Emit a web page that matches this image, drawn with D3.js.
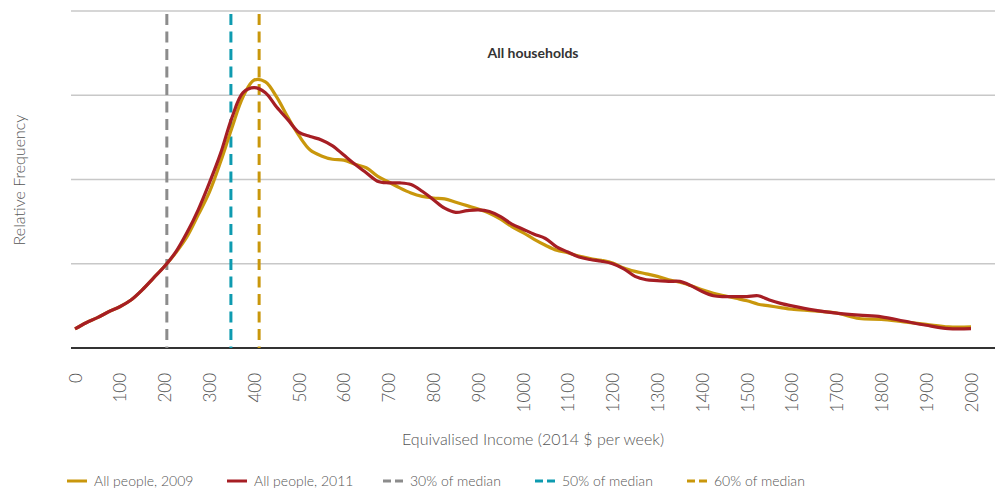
<!DOCTYPE html>
<html>
<head>
<meta charset="utf-8">
<script src="https://cdn.jsdelivr.net/npm/d3@7"></script>
<style>
  body { margin: 0; background: #fff; }
  text { font-family: Lato, "Open Sans", sans-serif; }
</style>
</head>
<body>
<script>
var w = 995,
    h = 490;

var margin = {
    top: 11,
    right: 0,
    bottom: 142,
    left: 71
};

var width = w - margin.left - margin.right,
    height = h - margin.top - margin.bottom;

// income bands ($ per week) and relative frequency (gridline units)
var incomes = [0, 25, 50, 75, 100, 125, 150, 175, 200, 225, 250, 275, 300, 325, 350, 375,
    400, 425, 450, 475, 500, 525, 550, 575, 600, 625, 650, 675, 700, 725, 750, 775,
    800, 825, 850, 875, 900, 925, 950, 975, 1000, 1025, 1050, 1075, 1100, 1125, 1150, 1175,
    1200, 1225, 1250, 1275, 1300, 1325, 1350, 1375, 1400, 1425, 1450, 1475, 1500, 1525, 1550, 1575,
    1600, 1650, 1700, 1750, 1800, 1850, 1900, 1950, 2000];

var freq2009 = [0.226, 0.30, 0.36, 0.43, 0.49, 0.57, 0.69, 0.83, 0.97, 1.13, 1.32, 1.58, 1.85, 2.21, 2.61, 2.98,
    3.18, 3.16, 2.98, 2.74, 2.52, 2.35, 2.28, 2.24, 2.23, 2.18, 2.14, 2.04, 1.97, 1.90, 1.84, 1.80,
    1.78, 1.77, 1.73, 1.69, 1.65, 1.60, 1.53, 1.44, 1.37, 1.29, 1.22, 1.16, 1.13, 1.09, 1.06, 1.04,
    1.01, 0.95, 0.91, 0.88, 0.85, 0.81, 0.78, 0.74, 0.69, 0.65, 0.62, 0.59, 0.56, 0.52, 0.50, 0.48,
    0.46, 0.44, 0.415, 0.35, 0.34, 0.31, 0.28, 0.25, 0.25];

var freq2011 = [0.226, 0.30, 0.36, 0.43, 0.49, 0.57, 0.69, 0.83, 0.97, 1.14, 1.37, 1.64, 1.96, 2.31, 2.73, 3.03,
    3.09, 3.03, 2.86, 2.71, 2.56, 2.51, 2.47, 2.40, 2.29, 2.18, 2.08, 1.98, 1.96, 1.96, 1.94, 1.86,
    1.76, 1.66, 1.61, 1.63, 1.64, 1.62, 1.56, 1.47, 1.41, 1.35, 1.30, 1.20, 1.14, 1.08, 1.05, 1.03,
    1.00, 0.94, 0.85, 0.81, 0.80, 0.79, 0.79, 0.74, 0.67, 0.62, 0.61, 0.61, 0.61, 0.62, 0.57, 0.53,
    0.50, 0.45, 0.415, 0.39, 0.37, 0.32, 0.27, 0.23, 0.23];

var medianNames = ["30% of median", "50% of median", "60% of median"];
var medianValues = [205, 348, 411];

var xTicks = d3.range(0, 2001, 100);
var yTicks = [1, 2, 3, 4];

var gold = "#c9970c",
    red = "#a61e24",
    teal = "#0e9bb0",
    grey = "#8c8c8c";
var medianColors = [grey, teal, gold];

var x = d3.scaleLinear()
    .domain([0, 2000])
    .range([4, 900]);

var y = d3.scaleLinear()
    .domain([0, 4])
    .range([height, 0]);

var line = d3.line()
    .x(function(d) { return x(d.inc); })
    .y(function(d) { return y(d.f); })
    .curve(d3.curveCatmullRom);

var svg = d3.select("body").append("svg")
    .attr("width", w)
    .attr("height", h);

var chart = svg.append("g")
    .attr("transform", "translate(" + margin.left + "," + margin.top + ")");

// gridlines
chart.append("g")
    .attr("class", "grid")
    .selectAll("line")
    .data(yTicks)
    .enter().append("line")
    .attr("x1", 0)
    .attr("x2", width)
    .attr("y1", function(d) { return y(d); })
    .attr("y2", function(d) { return y(d); })
    .attr("stroke", "#c8c8c8")
    .attr("stroke-width", 1.5);

// x axis
var xAxis = chart.append("g")
    .attr("class", "axis axis--x")
    .attr("transform", "translate(0," + height + ")")
    .call(d3.axisBottom(x).tickValues(xTicks).tickSize(0).tickFormat(d3.format("d")));

xAxis.select(".domain").remove();
xAxis.selectAll("text")
    .attr("transform", "translate(0,25) rotate(-90)")
    .attr("x", 0)
    .attr("y", 0)
    .attr("dy", "0.36em")
    .attr("text-anchor", "end")
    .attr("font-size", 17)
    .attr("font-weight", 300)
    .attr("fill", "#555");

chart.append("line")
    .attr("x1", 0)
    .attr("x2", width)
    .attr("y1", height)
    .attr("y2", height)
    .attr("stroke", "#333")
    .attr("stroke-width", 2);

// median lines
chart.append("g")
    .selectAll("line")
    .data(medianValues)
    .enter().append("line")
    .attr("x1", function(d) { return x(d); })
    .attr("x2", function(d) { return x(d); })
    .attr("y1", y(4) + 3)
    .attr("y2", height)
    .attr("stroke", function(d, i) { return medianColors[i]; })
    .attr("stroke-width", 3)
    .attr("stroke-dasharray", "11,6.5");

// income curves
var series = [
    { name: "All people, 2009", color: gold, values: freq2009 },
    { name: "All people, 2011", color: red, values: freq2011 }
];

chart.selectAll(".series")
    .data(series)
    .enter().append("path")
    .attr("class", "series")
    .attr("d", function(s) {
        return line(incomes.map(function(inc, i) { return { inc: inc, f: s.values[i] }; }));
    })
    .attr("fill", "none")
    .attr("stroke", function(s) { return s.color; })
    .attr("stroke-width", 3.2)
    .attr("stroke-linejoin", "round");

// titles
chart.append("text")
    .text("All households")
    .attr("x", width / 2)
    .attr("y", 47)
    .attr("text-anchor", "middle")
    .attr("font-size", 14)
    .attr("font-weight", "bold")
    .attr("fill", "#333");

svg.append("text")
    .text("Equivalised Income (2014 $ per week)")
    .attr("x", margin.left + width / 2)
    .attr("y", 445)
    .attr("text-anchor", "middle")
    .attr("font-size", 16)
    .attr("font-weight", 300)
    .attr("fill", "#555");

svg.append("text")
    .text("Relative Frequency")
    .attr("transform", "translate(25,180) rotate(-90)")
    .attr("text-anchor", "middle")
    .attr("font-size", 16)
    .attr("font-weight", 300)
    .attr("fill", "#555");

// legend
var legendItems = [
    { name: series[0].name, color: gold, dash: null, x: 67 },
    { name: series[1].name, color: red, dash: null, x: 227 },
    { name: medianNames[0], color: grey, dash: "8,4", x: 383 },
    { name: medianNames[1], color: teal, dash: "8,4", x: 535 },
    { name: medianNames[2], color: gold, dash: "8,4", x: 687 }
];

var legend = svg.selectAll(".legend")
    .data(legendItems)
    .enter().append("g")
    .attr("class", "legend")
    .attr("transform", function(d) { return "translate(" + d.x + ",481)"; });

legend.append("line")
    .attr("x1", 0)
    .attr("x2", 20)
    .attr("stroke", function(d) { return d.color; })
    .attr("stroke-width", 3)
    .attr("stroke-dasharray", function(d) { return d.dash; });

legend.append("text")
    .text(function(d) { return d.name; })
    .attr("x", 27)
    .attr("y", 5)
    .attr("font-size", 14)
    .attr("font-weight", 300)
    .attr("fill", "#555");
</script>
</body>
</html>
